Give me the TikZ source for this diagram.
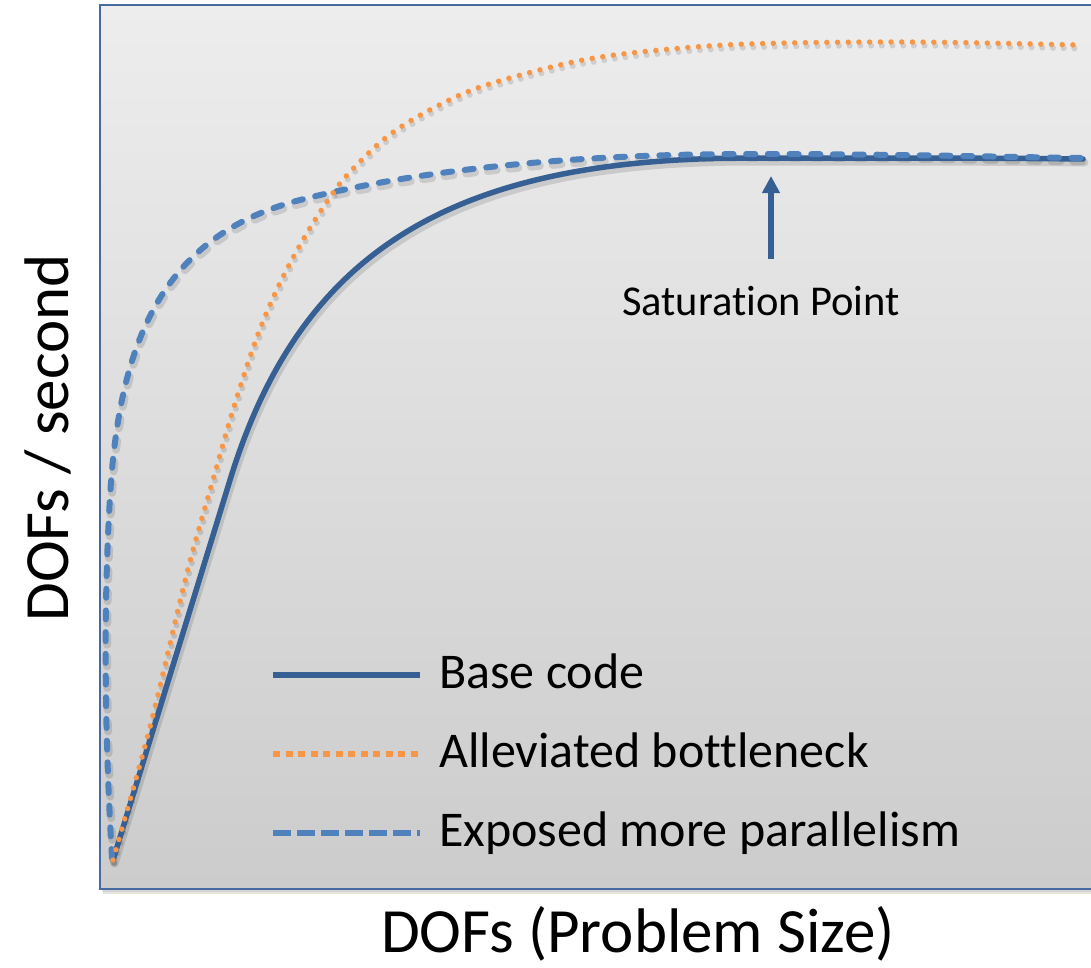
\documentclass[tikz,border=0pt]{standalone}
\usepackage{fontspec}
\setmainfont{Carlito}[Ligatures=NoCommon]
\usetikzlibrary{arrows.meta}
\definecolor{basec}{RGB}{54,96,148}
\definecolor{dashc}{RGB}{79,129,189}
\definecolor{dotc}{RGB}{247,150,70}
\definecolor{framec}{RGB}{70,105,160}
\definecolor{bgtop}{RGB}{237,237,237}
\definecolor{bgbot}{RGB}{204,204,204}
\begin{document}
\begin{tikzpicture}[x=1pt,y=-1pt,
  basecurve/.style={basec, line width=5.5pt, line cap=round, line join=round},
  dashcurve/.style={dashc, line width=6pt, line cap=round, line join=round, dash pattern=on 9pt off 12.7pt},
  dotcurve/.style={dotc, line width=5.5pt, line cap=round, dash pattern=on 0pt off 10.7pt},
  shadowcurve/.style={black, opacity=0.12, line width=8pt, line cap=round, line join=round},
  legbase/.style={basec, line width=6pt},
  legdash/.style={dashc, line width=6pt, dash pattern=on 18pt off 6pt},
  legdot/.style={dotc, line width=6pt, dash pattern=on 7pt off 5.5pt},
  legtext/.style={anchor=base west, inner sep=0pt, font=\fontsize{50}{56}\selectfont},
  axistext/.style={anchor=base, inner sep=0pt, font=\fontsize{63}{72}\selectfont},
  sattext/.style={anchor=base, inner sep=0pt, font=\fontsize{42.5}{50}\selectfont},
  satarrow/.style={basec, line width=5.5pt, -{Triangle[width=17pt,length=17pt]}}
]
\useasboundingbox (0,0) rectangle (1091,967);
\clip (0,0) rectangle (1091,967);
\fill[white] (0,0) rectangle (1091,967);
% box shadow
\fill[black, opacity=0.10] (103,9) rectangle (1100,894);
\fill[black, opacity=0.08] (102,7) rectangle (1100,892);
% plot area
\shade[top color=bgtop, bottom color=bgbot] (100,5) rectangle (1100,889);
\draw[framec, line width=2pt] (1100,5) -- (100,5) -- (100,889) -- (1100,889);

\def\basepath{(113,860) .. controls (150,740) and (195,594) .. (230,480) .. controls (300,252) and (450,158) .. (750,158) .. controls (900,158) and (1000,158) .. (1083,159)}
\def\dashpath{(112,858) .. controls (105,740) and (103,614) .. (110,497) .. controls (119,345) and (160,236) .. (300,200) .. controls (400,174) and (550,154) .. (750,154) .. controls (900,154) and (1000,157) .. (1083,158)}
\def\dotpath{plot[smooth, tension=0.55] coordinates {(113,860) (150,727) (187,573) (213,480) (233,410) (257,337) (280,283) (307,233) (333,193) (350,172) (383,140) (417,117) (467,92) (517,76) (583,60) (650,51) (747,44) (907,42) (1078,45)}}

% shadows of curves
\begin{scope}[shift={(1.5,3.5)}]
\draw[shadowcurve, dash pattern=on 9pt off 12.7pt] \dashpath;
\draw[shadowcurve] \basepath;
\draw[shadowcurve, line width=6pt, dash pattern=on 0pt off 10.7pt] \dotpath;
\end{scope}

% base code
\draw[basecurve] \basepath;
% exposed more parallelism
\draw[dashcurve] \dashpath;
% alleviated bottleneck
\draw[dotcurve] \dotpath;

% saturation point
\coordinate (satbase) at (771,259);
\coordinate (sattip) at (771,176);
\draw[satarrow] (satbase) -- (sattip);
\node[sattext] (sat) at (761,315) {Saturation Point};

% legend
\coordinate (l1a) at (273,675); \coordinate (l1b) at (420,675);
\coordinate (l2a) at (273,754); \coordinate (l2b) at (420,754);
\coordinate (l3a) at (273,833); \coordinate (l3b) at (420,833);
\draw[legbase] (l1a) -- (l1b);
\draw[legdot] (l2a) -- (l2b);
\draw[legdash] (l3a) -- (l3b);
\node[legtext] (lg1) at (439,688) {Base code};
\node[legtext] (lg2) at (439,767) {Alleviated bottleneck};
\node[legtext] (lg3) at (439,846) {Exposed more parallelism};

% axis labels
\node[axistext] (xlab) at (638,952) {DOFs (Problem Size)};
\node[axistext, rotate=90] (ylab) at (68,438) {DOFs / second};
\end{tikzpicture}
\end{document}
